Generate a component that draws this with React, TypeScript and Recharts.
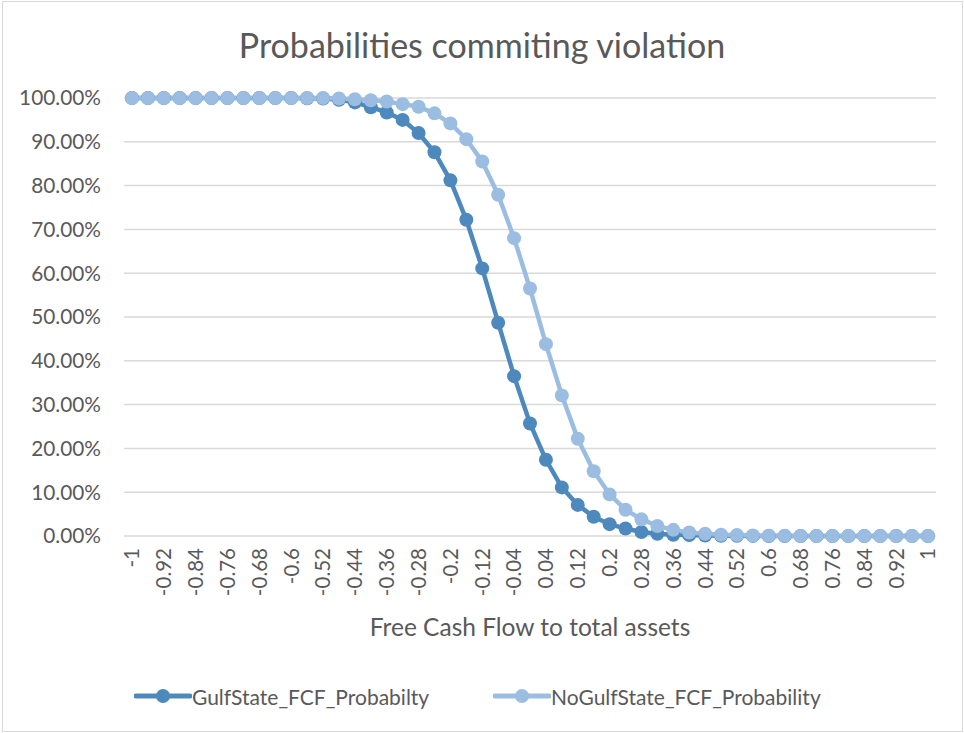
import React from 'react';
import {
  LineChart,
  Line,
  XAxis,
  YAxis,
  CartesianGrid,
  Label,
} from 'recharts';

const xLabels = [
  '-1', '-0.96', '-0.92', '-0.88', '-0.84', '-0.8', '-0.76', '-0.72', '-0.68', '-0.64',
  '-0.6', '-0.56', '-0.52', '-0.48', '-0.44', '-0.4', '-0.36', '-0.32', '-0.28', '-0.24',
  '-0.2', '-0.16', '-0.12', '-0.08', '-0.04', '0', '0.04', '0.08', '0.12', '0.16',
  '0.2', '0.24', '0.28', '0.32', '0.36', '0.4', '0.44', '0.48', '0.52', '0.56',
  '0.6', '0.64', '0.68', '0.72', '0.76', '0.8', '0.84', '0.88', '0.92', '0.96', '1',
];

// probabilities in percent
const gulfState = [
  100, 100, 100, 100, 100, 100, 100, 100, 100, 100,
  100, 99.95, 99.9, 99.6, 99.0, 97.9, 96.7, 95.0, 92.0, 87.6,
  81.2, 72.2, 61.1, 48.7, 36.5, 25.7, 17.4, 11.1, 7.1, 4.4,
  2.7, 1.7, 0.9, 0.5, 0.3, 0.2, 0.1, 0.05, 0.03, 0.02,
  0.01, 0, 0, 0, 0, 0, 0, 0, 0, 0, 0,
];

const noGulfState = [
  100, 100, 100, 100, 100, 100, 100, 100, 100, 100,
  100, 100, 100, 99.9, 99.7, 99.5, 99.2, 98.6, 98.0, 96.5,
  94.2, 90.6, 85.5, 77.9, 68.0, 56.5, 43.8, 32.1, 22.2, 14.8,
  9.5, 6.0, 3.8, 2.3, 1.4, 0.8, 0.5, 0.3, 0.2, 0.1,
  0.05, 0.03, 0.02, 0.01, 0, 0, 0, 0, 0, 0, 0,
];

const yTicks = [0, 10, 20, 30, 40, 50, 60, 70, 80, 90, 100];

const seriesNames = ['GulfState_FCF_Probabilty', 'NoGulfState_FCF_Probability'];
const colors = ['#4e89be', '#9cbde2'];

const data = xLabels.map((x, i) => ({
  x,
  gulf: gulfState[i],
  noGulf: noGulfState[i],
}));

const FONT = 'Lato, "Open Sans", sans-serif';
const TEXT = '#595959';

const XTick = (props: any) => {
  const { x, y, payload } = props;
  return (
    <g transform={`translate(${x},${y})`}>
      <text
        transform="rotate(-90)"
        textAnchor="end"
        dy="0.36em"
        fill={TEXT}
        fontSize={20.5}
        fontFamily={FONT}
      >
        {payload.value}
      </text>
    </g>
  );
};

const LegendItem = ({ color, name, left }: { color: string; name: string; left: number }) => (
  <div style={{ position: 'absolute', left, top: 684, display: 'flex', alignItems: 'center', height: 24 }}>
    <svg width={58} height={24}>
      <line x1={2} y1={12} x2={56} y2={12} stroke={color} strokeWidth={5} strokeLinecap="round" />
      <circle cx={29} cy={12} r={7} fill={color} />
    </svg>
    <span style={{ fontFamily: FONT, fontSize: 21, color: TEXT, marginLeft: 0 }}>{name}</span>
  </div>
);

export default function App() {
  return (
    <div style={{ position: 'relative', width: 964, height: 733, background: '#fff', overflow: 'hidden' }}>
      <style>{'body{margin:0;}'}</style>
      <div
        style={{
          position: 'absolute',
          left: 2,
          top: 1,
          width: 959,
          height: 729,
          border: '1px solid #d9d9d9',
        }}
      />
      <div
        style={{
          position: 'absolute',
          top: 23,
          left: 0,
          width: 964,
          textAlign: 'center',
          fontFamily: FONT,
          fontSize: 34,
          lineHeight: '44px',
          color: TEXT,
        }}
      >
        Probabilities commiting violation
      </div>
      <div style={{ position: 'absolute', left: 0, top: 0 }}>
        <LineChart width={964} height={733} data={data} margin={{ top: 98, right: 28, left: 0, bottom: 87 }}>
          <CartesianGrid vertical={false} stroke="#d9d9d9" strokeWidth={1.5} />
          <XAxis
            dataKey="x"
            interval={1}
            axisLine={false}
            tickLine={false}
            tickSize={0}
            tickMargin={12}
            padding={{ left: 8, right: 8 }}
            height={110}
            tick={<XTick />}
          >
            <Label
              value="Free Cash Flow to total assets"
              position="insideBottom"
              offset={10}
              style={{ fontFamily: FONT, fontSize: 24.5, fill: TEXT }}
            />
          </XAxis>
          <YAxis
            width={124}
            domain={[0, 100]}
            ticks={yTicks}
            axisLine={false}
            tickLine={false}
            tickSize={0}
            tickMargin={23}
            tickFormatter={(v: number) => `${v.toFixed(2)}%`}
            tick={{ fill: TEXT, fontSize: 20.8, fontFamily: FONT }}
          />
          <Line
            dataKey="gulf"
            name={seriesNames[0]}
            stroke={colors[0]}
            strokeWidth={4.5}
            dot={{ r: 7, fill: colors[0], stroke: 'none' }}
            isAnimationActive={false}
          />
          <Line
            dataKey="noGulf"
            name={seriesNames[1]}
            stroke={colors[1]}
            strokeWidth={4.5}
            dot={{ r: 7, fill: colors[1], stroke: 'none' }}
            isAnimationActive={false}
          />
        </LineChart>
      </div>
      <LegendItem color={colors[0]} name={seriesNames[0]} left={134} />
      <LegendItem color={colors[1]} name={seriesNames[1]} left={493} />
    </div>
  );
}
